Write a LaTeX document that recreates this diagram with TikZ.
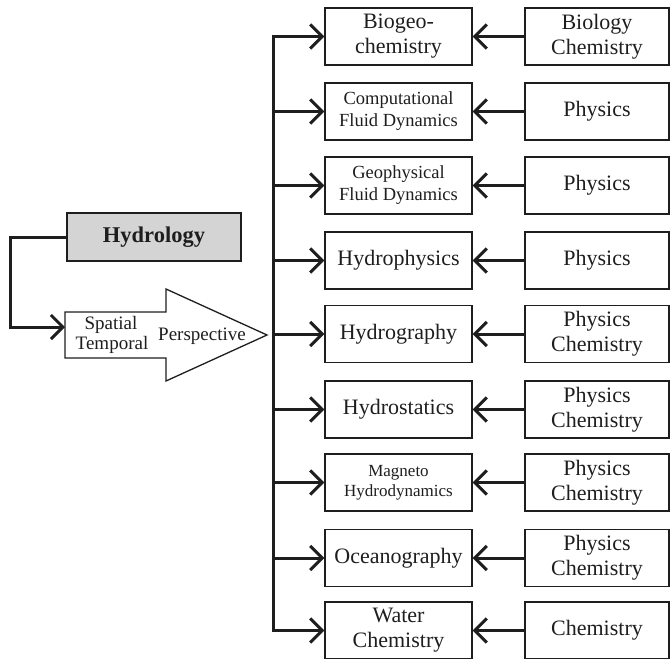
\documentclass[tikz,border=0pt]{standalone}
\usepackage{fontspec}
\setmainfont{Liberation Serif}
\usetikzlibrary{arrows.meta}
\definecolor{ink}{HTML}{1E1E1E}
\definecolor{hydgray}{HTML}{D4D4D4}
\begin{document}
\begin{tikzpicture}[x=1bp,y=-1bp,
  box/.style={draw=ink, line width=1.3bp, minimum height=57bp, inner sep=0pt,
    align=center, text=ink},
  leftbox/.style={box, minimum width=147bp},
  rightbox/.style={box, minimum width=144bp},
  big/.style={font=\fontsize{22bp}{25bp}\selectfont},
  small/.style={font=\fontsize{18.5bp}{22bp}\selectfont},
  tiny/.style={font=\fontsize{17bp}{20bp}\selectfont},
  conn/.style={draw=ink, line width=3bp, -{Straight Barb[length=12bp,width=24bp]}},
  trunk/.style={draw=ink, line width=3bp}]
\useasboundingbox (0,0) rectangle (670,659);

% discipline boxes (left) and their source sciences (right)
\node[leftbox,big]   (L1) at (398.5, 36.5) {Biogeo-\\chemistry};
\node[leftbox,small] (L2) at (398.5,111.5) {Computational\\Fluid Dynamics};
\node[leftbox,small] (L3) at (398.5,185.5) {Geophysical\\Fluid Dynamics};
\node[leftbox,big]   (L4) at (398.5,260.5) {Hydrophysics};
\node[leftbox,big]   (L5) at (398.5,334.0) {Hydrography};
\node[leftbox,big]   (L6) at (398.5,409.5) {Hydrostatics};
\node[leftbox,tiny]  (L7) at (398.5,482.5) {Magneto\\Hydrodynamics};
\node[leftbox,big]   (L8) at (398.5,558.0) {Oceanography};
\node[leftbox,big]   (L9) at (398.5,630.5) {Water\\Chemistry};

\node[rightbox,big] (R1) at (597, 36.5) {Biology\\Chemistry};
\node[rightbox,big] (R2) at (597,111.5) {Physics};
\node[rightbox,big] (R3) at (597,185.5) {Physics};
\node[rightbox,big] (R4) at (597,260.5) {Physics};
\node[rightbox,big] (R5) at (597,334.0) {Physics\\Chemistry};
\node[rightbox,big] (R6) at (597,409.5) {Physics\\Chemistry};
\node[rightbox,big] (R7) at (597,482.5) {Physics\\Chemistry};
\node[rightbox,big] (R8) at (597,558.0) {Physics\\Chemistry};
\node[rightbox,big] (R9) at (597,630.5) {Chemistry};

% Hydrology box
\node[box, fill=hydgray, minimum width=174bp, minimum height=48bp,
  font=\fontsize{22.5bp}{25bp}\selectfont\bfseries] (H) at (154,237) {Hydrology};

% perspective block arrow
\draw[draw=ink, line width=1.3bp, fill=white]
  (65,312) -- (166,312) -- (166,289) -- (267,335) -- (166,381) -- (166,358)
  -- (65,358) -- cycle;
\coordinate (P) at (65,327);
\node[font=\fontsize{19bp}{22bp}\selectfont, text=ink, inner sep=0pt] (sp) at (111,325) {Spatial};
\node[font=\fontsize{19bp}{22bp}\selectfont, text=ink, inner sep=0pt] (tp) at (112,345) {Temporal};
\node[font=\fontsize{19bp}{22bp}\selectfont, text=ink, inner sep=0pt] (pp) at (202,336) {Perspective};

% Hydrology into the perspective arrow
\coordinate (hc1) at (10,237);
\coordinate (hc2) at (10,327);
\draw[conn] (H.west) -- (hc1) -- (hc2) -- (P);

% trunk feeding all disciplines
\foreach \i in {1,...,9} {
  \coordinate (t\i) at (L\i.west -| 273,0);
}
\draw[trunk, line cap=rect] (t1) -- (t9);
\foreach \i in {1,...,9} {
  \draw[conn] (t\i) -- (L\i.west);
  \draw[conn] (R\i.west) -- (L\i.east);
}
\end{tikzpicture}
\end{document}
